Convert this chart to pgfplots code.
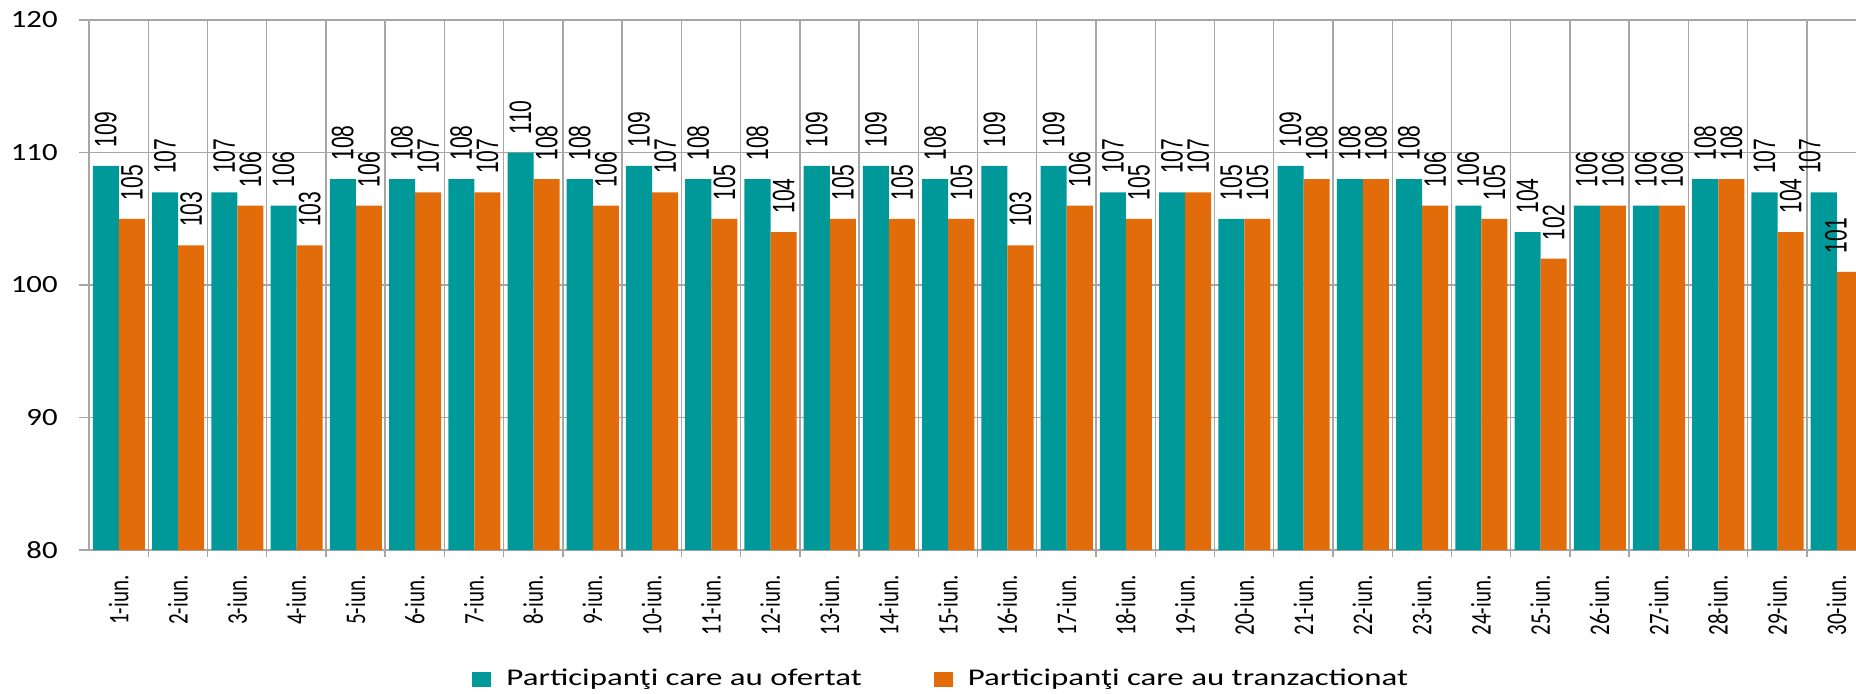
\documentclass[border=0pt]{standalone}
\usepackage{fontspec}
\setmainfont{Carlito}
\newfontfamily\yfont[FakeStretch=1.24]{Carlito}
\newfontfamily\xfont[FakeStretch=0.74]{Carlito}
\newfontfamily\legfont[FakeStretch=1.37]{Carlito}
\newfontfamily\lblfont[FakeStretch=0.68]{Liberation Sans}
\usepackage{pgfplots}
\usepackage{pgfplotstable}
\pgfplotsset{compat=1.18}

\definecolor{tealbar}{RGB}{0,153,153}
\definecolor{orangebar}{RGB}{227,108,10}
\definecolor{gridgray}{RGB}{166,166,166}

% day, participants who bid, participants who traded
\pgfplotstableread{
day ofertat tranz
1 109 105
2 107 103
3 107 106
4 106 103
5 108 106
6 108 107
7 108 107
8 110 108
9 108 106
10 109 107
11 108 105
12 108 104
13 109 105
14 109 105
15 108 105
16 109 103
17 109 106
18 107 105
19 107 107
20 105 105
21 109 108
22 108 108
23 108 106
24 106 105
25 104 102
26 106 106
27 106 106
28 108 108
29 107 104
30 107 101
}\datatable

\pgfplotsset{
  sq legend/.style={legend image code/.code={
    \fill[##1] (0pt,-3.75pt) rectangle (9.5pt,3.75pt);
    \path (15pt,0pt);}},
  lbl/.style={nodes near coords={\lblfont\fontsize{15.5}{17}\selectfont
      \pgfmathprintnumber[assume math mode=true]{\pgfplotspointmeta}},
    visualization depends on={\thisrow{day}\as\dayval},
    every node near coord/.append style={xshift={#1-7pt*(\dayval>29.5)}, yshift=9pt,
      rotate=90, anchor=west, inner sep=0pt, text=black}},
}

\begin{document}
\begin{tikzpicture}
\useasboundingbox (-44.5pt,-71.5pt) rectangle (883.5pt,275pt);
\begin{axis}[
  at={(0pt,0pt)}, anchor=south west,
  scale only axis, width=883.5pt, height=265pt,
  xmin=0.5, xmax=30.33, ymin=80, ymax=120,
  axis x line*=bottom, axis y line*=left,
  axis line style={gridgray, line width=0.7pt},
  tick align=outside,
  major tick length=5pt, minor tick length=3.5pt,
  tick style={gridgray, line width=0.7pt},
  major x tick style={draw=none},
  ytick={80,90,100,110,120},
  yticklabels={80,90,100,110,120},
  yticklabel style={font=\yfont\fontsize{12.4}{14}\selectfont, inner sep=0pt, xshift=-10.5pt},
  xtick={1,...,30},
  xticklabels={1-iun.,2-iun.,3-iun.,4-iun.,5-iun.,6-iun.,7-iun.,8-iun.,9-iun.,10-iun.,
    11-iun.,12-iun.,13-iun.,14-iun.,15-iun.,16-iun.,17-iun.,18-iun.,19-iun.,20-iun.,
    21-iun.,22-iun.,23-iun.,24-iun.,25-iun.,26-iun.,27-iun.,28-iun.,29-iun.,30-iun.},
  xticklabel style={font=\xfont\fontsize{14.2}{16}\selectfont, yshift=-7.5pt, rotate=90,
    anchor=east, inner sep=0pt},
  minor xtick={1.5,2.5,...,29.5},
  ymajorgrids, xminorgrids,
  grid style={gridgray, line width=0.7pt},
  minor grid style={gridgray, line width=0.7pt},
  legend columns=2,
  legend style={at={(0.2168,-0.2434)}, anchor=west, draw=none, fill=none,
    inner sep=0pt, font=\legfont\fontsize{12}{14}\selectfont,
    /tikz/every even column/.append style={column sep=34pt}},
]
\addplot[ybar, bar width=0.44, bar shift=-0.215, fill=tealbar, draw=none, sq legend, lbl=-6.4pt]
  table[x=day, y=ofertat]{\datatable};
\addlegendentry{Participanţi care au ofertat}
\addplot[ybar, bar width=0.44, bar shift=0.225, fill=orangebar, draw=none, sq legend, lbl=6.7pt]
  table[x=day, y=tranz]{\datatable};
\addlegendentry{Participanţi care au tranzactionat}
\end{axis}
\end{tikzpicture}
\end{document}
